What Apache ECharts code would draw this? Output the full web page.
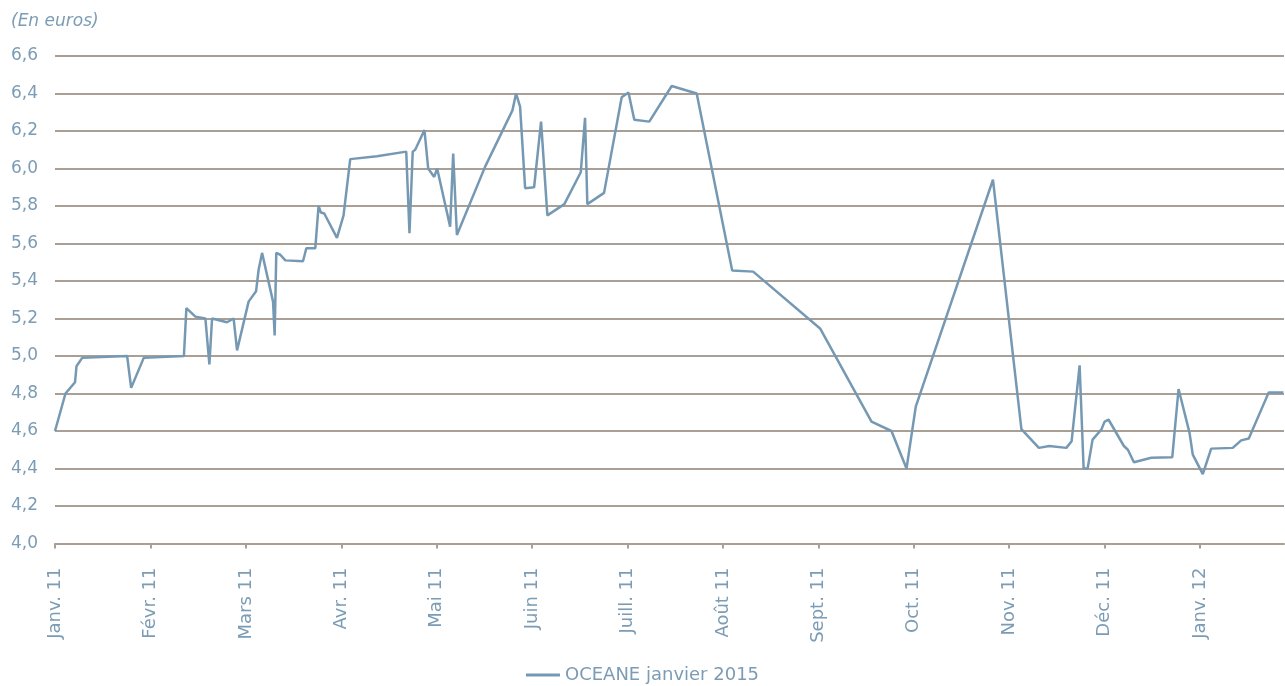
<!DOCTYPE html>
<html>
<head>
<meta charset="utf-8">
<script src="https://cdn.jsdelivr.net/npm/echarts@6/dist/echarts.min.js"></script>
<style>
html,body{margin:0;padding:0;background:#fff;}
#chart{width:1285px;height:686px;}
</style>
</head>
<body>
<div id="chart"></div>
<script>
// Month tick labels (position 0 = start of Janv. 11)
const monthLabels = ['Janv. 11','Févr. 11','Mars 11','Avr. 11','Mai 11','Juin 11','Juill. 11','Août 11','Sept. 11','Oct. 11','Nov. 11','Déc. 11','Janv. 12'];
// Observation positions, in months since the start of January 2011
const monthPos = [0.00,0.11,0.21,0.225,0.285,0.756,0.798,0.93,1.351,1.377,1.471,1.576,1.618,1.646,1.803,1.872,1.908,2.029,2.107,2.134,2.170,2.285,2.302,2.319,2.361,2.414,2.599,2.634,2.728,2.762,2.787,2.822,2.955,3.024,3.094,3.374,3.681,3.715,3.749,3.775,3.872,3.911,3.974,4.005,4.141,4.173,4.212,4.508,4.794,4.832,4.874,4.927,5.021,5.094,5.160,5.338,5.510,5.555,5.579,5.754,5.939,6.010,6.071,6.228,6.463,6.725,7.097,7.317,8.021,8.557,8.766,8.924,9.021,9.830,10.128,10.311,10.420,10.599,10.654,10.738,10.780,10.822,10.874,10.965,11.000,11.042,11.202,11.244,11.307,11.489,11.709,11.775,11.890,11.924,12.029,12.117,12.343,12.431,12.511,12.720,12.874];
// OCEANE janvier 2015 price (euros)
const oceane = [4.60,4.80,4.86,4.945,4.99,5.00,4.83,4.99,5.00,5.255,5.21,5.20,4.955,5.20,5.18,5.20,5.03,5.29,5.345,5.46,5.55,5.29,5.11,5.55,5.54,5.51,5.505,5.575,5.575,5.80,5.765,5.76,5.63,5.75,6.05,6.065,6.09,5.655,6.09,6.10,6.205,6.00,5.955,6.00,5.69,6.08,5.645,6.01,6.31,6.40,6.33,5.895,5.90,6.25,5.75,5.81,5.98,6.27,5.81,5.87,6.38,6.405,6.26,6.25,6.44,6.40,5.456,5.45,5.145,4.65,4.60,4.40,4.73,5.94,4.61,4.51,4.52,4.51,4.545,4.95,4.40,4.40,4.554,4.607,4.65,4.66,4.52,4.50,4.433,4.457,4.46,4.824,4.59,4.474,4.37,4.506,4.51,4.55,4.56,4.806,4.806];
const seriesName = 'OCEANE janvier 2015';
const yTicks = {min: 4.0, max: 6.6, step: 0.2};
const xEnd = 12.88;

const FONT = 'DejaVu Sans';
const TXT = '#7b9cb4';
const GRID = '#a99f94';
const LINE = '#7699b3';

const tickIdx = monthLabels.map((_, i) => i);
const data = monthPos.map((m, i) => [m, oceane[i]]);

const chart = echarts.init(document.getElementById('chart'), null, {renderer: 'canvas'});
chart.setOption({
  animation: false,
  backgroundColor: '#ffffff',
  title: {
    text: '(En euros)',
    left: 6, top: 8,
    textStyle: {fontFamily: FONT, fontSize: 17, fontStyle: 'italic', fontWeight: 'normal', color: TXT}
  },
  legend: {
    top: 661,
    left: 'center',
    icon: 'path://M0,0 L34,0 L34,3 L0,3 Z',
    itemWidth: 34, itemHeight: 3,
    itemGap: 10,
    textStyle: {fontFamily: FONT, fontSize: 18, color: TXT},
    data: [seriesName]
  },
  grid: {left: 55, right: 1, top: 56, bottom: 142.5, containLabel: false},
  xAxis: {
    type: 'value',
    min: 0, max: xEnd, interval: 1,
    splitLine: {show: false},
    axisLine: {show: true, lineStyle: {color: GRID, width: 2}},
    axisTick: {show: true, length: 5, lineStyle: {color: GRID, width: 2}, customValues: tickIdx},
    axisLabel: {
      customValues: tickIdx,
      rotate: 90, margin: 24,
      fontFamily: FONT, fontSize: 18, color: TXT,
      formatter: v => monthLabels[Math.round(v)] || ''
    }
  },
  yAxis: {
    type: 'value',
    min: yTicks.min, max: yTicks.max, interval: yTicks.step,
    axisLine: {show: false},
    axisTick: {show: false},
    splitLine: {show: true, lineStyle: {color: GRID, width: 2}},
    axisLabel: {
      margin: 17,
      fontFamily: FONT, fontSize: 17, color: TXT,
      formatter: v => v.toFixed(1).replace('.', ',')
    }
  },
  series: [{
    name: seriesName,
    type: 'line',
    data: data,
    symbol: 'none',
    showSymbol: false,
    lineStyle: {color: LINE, width: 2.5},
    itemStyle: {color: LINE}
  }]
});
</script>
</body>
</html>
